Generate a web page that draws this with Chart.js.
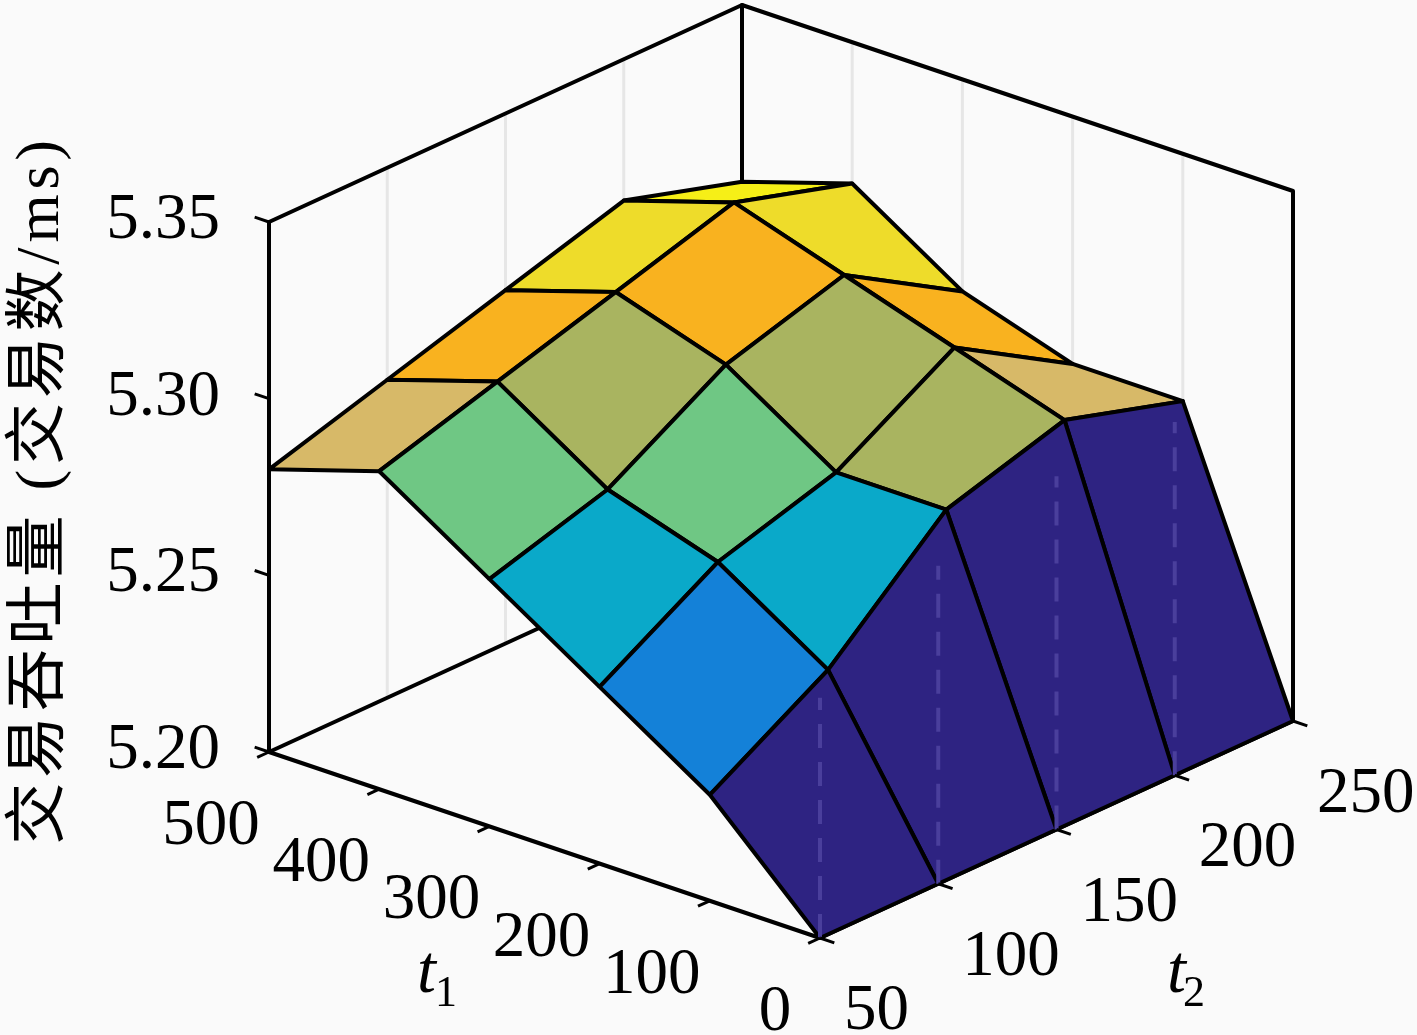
<!DOCTYPE html>
<html>
<head>
<meta charset="utf-8">
<title>交易吞吐量</title>
<script src="https://cdn.jsdelivr.net/npm/chart.js@4/dist/chart.umd.min.js"></script>
<style>
    html, body { margin: 0; padding: 0; background: #fafafa; }
    canvas { display: block; }
</style>
</head>
<body>
<canvas id="mainChart" width="1417" height="1035"></canvas>
<script>
// axis values
const t1Values = [0, 100, 200, 300, 400, 500];
const t2Values = [50, 100, 150, 200, 250];
const zTicks = [5.20, 5.25, 5.30, 5.35];

// throughput, one array per t1 value, ordered by t2
const zAtT1_0 = [5.20, 5.20, 5.20, 5.20, 5.20];
const zAtT1_100 = [5.23, 5.25, 5.28, 5.29, 5.28];
const zAtT1_200 = [5.25, 5.27, 5.28, 5.30, 5.28];
const zAtT1_300 = [5.27, 5.28, 5.30, 5.31, 5.29];
const zAtT1_400 = [5.29, 5.30, 5.31, 5.32, 5.31];
const zAtT1_500 = [5.28, 5.29, 5.30, 5.31, 5.30];
const zRows = [zAtT1_0, zAtT1_100, zAtT1_200, zAtT1_300, zAtT1_400, zAtT1_500];

// height the pale marks on the front wall reach, by t2
const wallMarkTop = [5.268, 5.29, 5.30, 5.30];

const zLabel = '交易吞吐量 (交易数/ms)';

// flat colour of a cell, looked up from the z of its first corner
const colorMap = {
    '5.20': '#2e2382',
    '5.23': '#1481d8',
    '5.25': '#0aa9c9',
    '5.27': '#6fc784',
    '5.28': '#a9b460',
    '5.29': '#d7b968',
    '5.30': '#f9b21f',
    '5.31': '#eedc2a',
    '5.32': '#f6ef17'
};

// fixed view of the 3D box, projected into the page-sized scales below
const origin = { x: 820, y: 938 };
const t1Axis = { dx: -551, dy: -186 };   // full t1 range
const t2Axis = { dx: 473, dy: -217 };    // full t2 range
const zHeight = 530;                     // full z range

const t1Min = 0, t1Max = 500, t2Min = 50, t2Max = 250, zMin = 5.20, zMax = 5.35;

function project(t1, t2, z) {
    const a = (t1 - t1Min) / (t1Max - t1Min);
    const b = (t2 - t2Min) / (t2Max - t2Min);
    const c = (z - zMin) / (zMax - zMin);
    return {
        x: origin.x + a * t1Axis.dx + b * t2Axis.dx,
        y: origin.y + a * t1Axis.dy + b * t2Axis.dy - c * zHeight
    };
}

const lineWidth = 4;

function lineSet(points, color, width, dash) {
    return {
        data: points,
        showLine: true,
        fill: false,
        borderColor: color,
        borderWidth: width || lineWidth,
        borderDash: dash || [],
        borderCapStyle: 'butt',
        borderJoinStyle: 'round',
        pointRadius: 0,
        clip: false
    };
}

function quadSet(i, j) {
    const set = lineSet([
        project(t1Values[i], t2Values[j], zRows[i][j]),
        project(t1Values[i], t2Values[j + 1], zRows[i][j + 1]),
        project(t1Values[i + 1], t2Values[j + 1], zRows[i + 1][j + 1]),
        project(t1Values[i + 1], t2Values[j], zRows[i + 1][j]),
        project(t1Values[i], t2Values[j], zRows[i][j])
    ], '#000');
    set.fill = 'shape';
    set.backgroundColor = colorMap[zRows[i][j].toFixed(2)];
    return set;
}

// back to front, reversed at the end because Chart.js paints the first dataset last
const layers = [];

// pale grid on the two back walls
t2Values.slice(1, -1).forEach(t2 => {
    layers.push(lineSet([project(t1Max, t2, zMin), project(t1Max, t2, zMax)], '#e6e6e6', 3));
});
t1Values.slice(1, -1).forEach(t1 => {
    layers.push(lineSet([project(t1, t2Max, zMin), project(t1, t2Max, zMax)], '#e6e6e6', 3));
});

// box outline
layers.push(lineSet([project(t1Max, t2Min, zMax), project(t1Max, t2Min, zMin)], '#000'));
layers.push(lineSet([project(t1Max, t2Min, zMax), project(t1Max, t2Max, zMax), project(t1Min, t2Max, zMax), project(t1Min, t2Max, zMin)], '#000'));
layers.push(lineSet([project(t1Max, t2Max, zMax), project(t1Max, t2Max, zMin)], '#000'));
layers.push(lineSet([project(t1Max, t2Min, zMin), project(t1Max, t2Max, zMin)], '#000'));
layers.push(lineSet([project(t1Max, t2Min, zMin), project(t1Min, t2Min, zMin), project(t1Min, t2Max, zMin)], '#000'));

// surface
for (let i = t1Values.length - 2; i >= 0; i--) {
    for (let j = t2Values.length - 2; j >= 0; j--) {
        layers.push(quadSet(i, j));
    }
}

// pale dashes on the front wall
wallMarkTop.forEach((top, j) => {
    layers.push(lineSet([project(t1Min, t2Values[j], zMin), project(t1Min, t2Values[j], top)], '#4a3f9c', 4, [24, 14]));
});

// tick marks
zTicks.forEach(z => {
    layers.push(lineSet([project(t1Max, t2Min, z), project(t1Max + 13, t2Min, z)], '#000', 3));
});
t1Values.forEach(t1 => {
    layers.push(lineSet([project(t1, t2Min, zMin), project(t1, t2Min - 5, zMin)], '#000', 3));
});
t2Values.forEach(t2 => {
    layers.push(lineSet([project(t1Min, t2, zMin), project(t1Min - 13, t2, zMin)], '#000', 3));
});

const datasets = layers.reverse();

const tickFont = '65px "Liberation Serif"';

// tick labels and axis titles, anchored on the projected axes
const axisText = {
    id: 'axisText',
    afterDraw(chart) {
        const { ctx, scales } = chart;
        const at = p => ({ x: scales.x.getPixelForValue(p.x), y: scales.y.getPixelForValue(p.y) });

        ctx.save();
        ctx.fillStyle = '#000';
        ctx.textBaseline = 'alphabetic';
        ctx.font = tickFont;

        ctx.textAlign = 'right';
        zTicks.forEach(z => {
            const p = at(project(t1Max, t2Min, z));
            ctx.fillText(z.toFixed(2), p.x - 49, p.y + 16);
        });

        ctx.textAlign = 'center';
        t1Values.forEach(t1 => {
            const p = at(project(t1, t2Min, zMin));
            const label = String(t1);
            ctx.fillText(label, p.x - 45 - (label.length - 1) * 6.5, p.y + 92);
        });

        ctx.textAlign = 'left';
        t2Values.forEach(t2 => {
            const p = at(project(t1Min, t2, zMin));
            ctx.fillText(String(t2), p.x + 24, p.y + 91);
        });

        // t1 and t2 titles
        ctx.font = 'italic 68px "Liberation Serif"';
        ctx.fillText('t', 417, 992);
        ctx.fillText('t', 1167, 992);
        ctx.font = '44px "Liberation Serif"';
        ctx.fillText('1', 435, 1006);
        ctx.fillText('2', 1183, 1006);

        // z title
        ctx.translate(58, 490);
        ctx.rotate(-Math.PI / 2);
        ctx.textAlign = 'center';
        ctx.font = '62px "Liberation Serif", "Noto Sans CJK SC"';
        ctx.letterSpacing = '4.8px';
        ctx.fillText(zLabel, 0, 0);
        ctx.restore();
    }
};

const chart = new Chart(document.getElementById('mainChart').getContext('2d'), {
    type: 'scatter',
    data: { datasets: datasets },
    options: {
        responsive: false,
        devicePixelRatio: 1,
        animation: false,
        layout: { padding: 0 },
        scales: {
            x: { type: 'linear', min: 0, max: 1417, display: false },
            y: { type: 'linear', min: 0, max: 1035, reverse: true, display: false }
        },
        plugins: {
            legend: { display: false },
            tooltip: { enabled: false }
        }
    },
    plugins: [axisText]
});
</script>
</body>
</html>
